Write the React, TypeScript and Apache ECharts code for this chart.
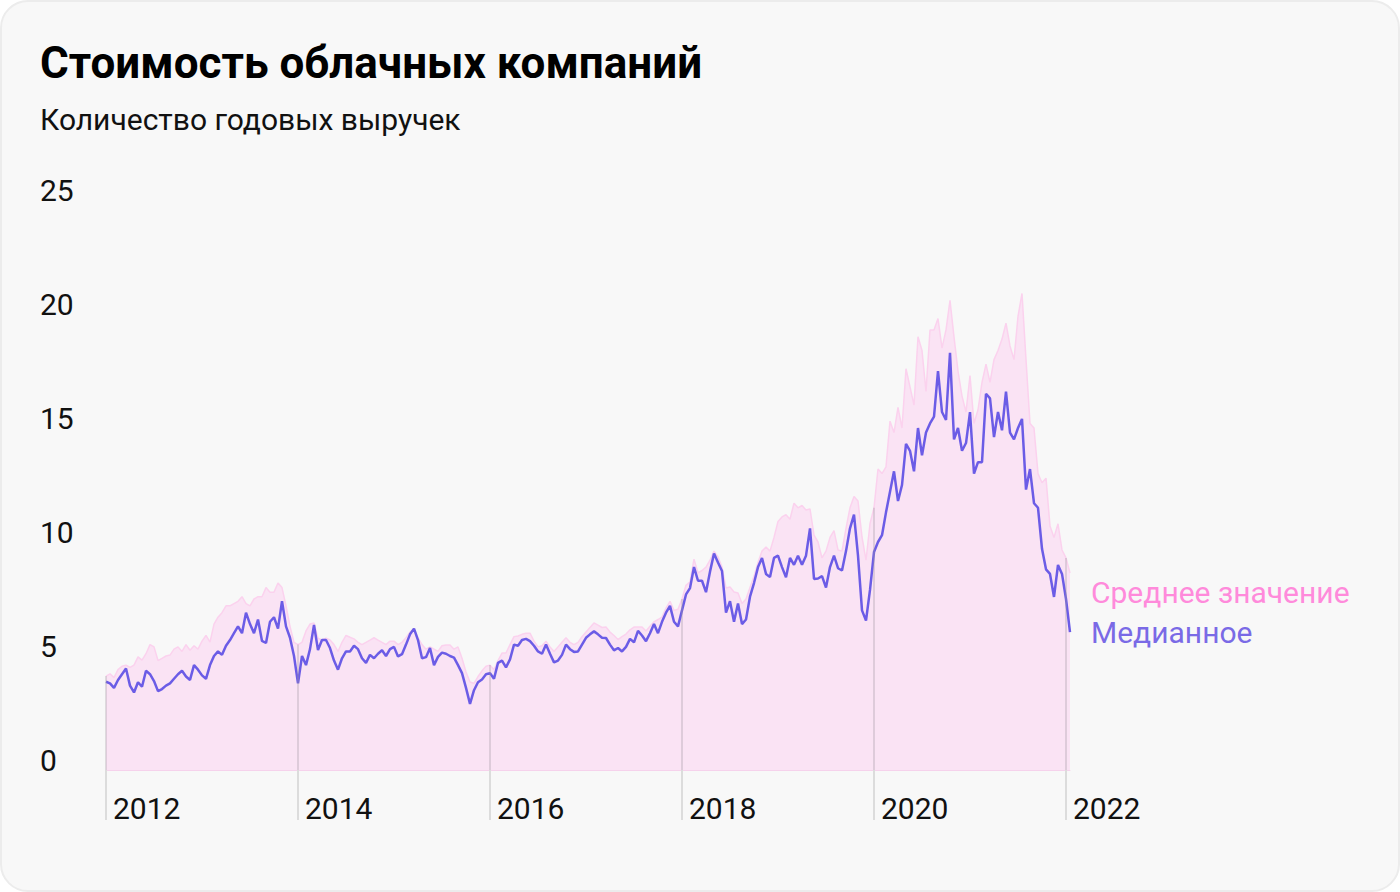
import React, { useEffect, useRef } from "react";
import * as echarts from "echarts";

const TITLE = "Стоимость облачных компаний";
const SUBTITLE = "Количество годовых выручек";
const LEGEND_MEAN = "Среднее значение";
const LEGEND_MEDIAN = "Медианное";

// semi-monthly observations, 2012-01 … 2022-01
const START_YEAR = 2012;
const POINTS = 242;
const dates: string[] = Array.from({ length: POINTS }, (_, i) => {
  const y = START_YEAR + Math.floor(i / 24);
  const m = Math.floor((i % 24) / 2) + 1;
  const d = i % 2 ? 15 : 1;
  return `${y}-${String(m).padStart(2, "0")}-${String(d).padStart(2, "0")}`;
});

const median: number[] = [
  3.87, 3.8, 3.6, 3.95, 4.2, 4.45, 3.7, 3.4, 3.85, 3.65, 4.35, 4.2, 3.9, 3.46, 3.55, 3.7, 3.8, 4.0, 4.2, 4.35,
  4.1, 3.95, 4.6, 4.4, 4.15, 4.0, 4.6, 5.0, 5.2, 5.05, 5.45, 5.7, 6.0, 6.3, 6.0, 6.9, 6.4, 6.0, 6.6, 5.66,
  5.57, 6.5, 6.7, 6.2, 7.4, 6.3, 5.8, 5.0, 3.8, 5.0, 4.6, 5.3, 6.36, 5.26, 5.7, 5.7, 5.35, 4.8, 4.4, 4.9,
  5.2, 5.2, 5.45, 5.3, 4.9, 4.7, 5.05, 4.9, 5.1, 5.25, 5.0, 5.3, 5.4, 4.98, 5.08, 5.5, 5.95, 6.2, 5.7, 4.9,
  4.95, 5.35, 4.6, 4.96, 5.15, 5.1, 5.0, 4.93, 4.6, 4.25, 3.6, 2.9, 3.5, 3.85, 3.97, 4.2, 4.25, 4.0, 4.7, 4.8,
  4.5, 4.85, 5.5, 5.45, 5.7, 5.75, 5.65, 5.45, 5.2, 5.1, 5.5, 5.1, 4.72, 4.8, 5.05, 5.5, 5.3, 5.18, 5.2, 5.5,
  5.8, 5.95, 6.08, 5.95, 5.8, 5.79, 5.5, 5.25, 5.35, 5.2, 5.4, 5.75, 5.6, 6.1, 5.9, 5.65, 6.0, 6.4, 6.0, 6.5,
  6.9, 7.2, 6.5, 6.3, 7.0, 7.7, 7.98, 8.9, 8.3, 8.3, 7.8, 8.7, 9.5, 9.1, 8.73, 6.9, 7.4, 6.5, 7.3, 6.4,
  6.6, 7.6, 8.2, 8.9, 9.3, 8.6, 8.46, 9.3, 9.4, 8.9, 8.45, 9.3, 9.0, 9.4, 9.0, 9.4, 10.6, 8.38, 8.4, 8.5,
  8.0, 8.9, 9.4, 8.85, 8.75, 9.6, 10.6, 11.2, 9.4, 7.0, 6.55, 7.9, 9.56, 10.0, 10.3, 11.3, 12.2, 13.1, 11.8, 12.5,
  14.3, 14.0, 13.1, 15.0, 13.8, 14.8, 15.2, 15.5, 17.5, 15.7, 15.35, 18.3, 14.5, 15.0, 14.0, 14.34, 15.7, 13.0, 13.5, 13.5,
  16.5, 16.3, 14.6, 15.7, 14.9, 16.6, 14.8, 14.5, 15.0, 15.4, 12.3, 13.2, 11.7, 11.5, 9.7, 8.8, 8.6, 7.59, 8.99, 8.6,
  7.5, 6.05,
];

const mean: number[] = [
  4.12, 4.22, 4.05, 4.4, 4.55, 4.6, 4.5, 4.6, 4.96, 4.82, 5.1, 5.5, 5.4, 4.8, 4.9, 5.0, 5.04, 5.3, 5.4, 5.2,
  5.5, 5.25, 5.45, 5.3, 5.65, 5.9, 5.61, 6.4, 6.7, 6.9, 7.2, 7.2, 7.3, 7.4, 7.6, 7.3, 7.2, 7.5, 7.6, 7.6,
  8.0, 7.8, 7.8, 8.2, 8.0, 7.2, 6.3, 5.6, 5.5, 5.6, 6.1, 6.4, 6.45, 5.78, 5.7, 5.78, 5.7, 5.5, 5.2, 5.6,
  5.9, 5.82, 5.75, 5.6, 5.5, 5.6, 5.7, 5.8, 5.7, 5.6, 5.5, 5.65, 5.65, 5.5, 5.6, 5.8, 6.05, 6.2, 5.8, 5.5,
  5.3, 5.4, 5.3, 5.2, 5.45, 5.48, 5.48, 5.3, 5.4, 4.9, 4.3, 3.86, 3.8, 4.1, 4.35, 4.55, 4.6, 4.4, 4.8, 5.13,
  5.13, 5.5, 5.85, 5.88, 5.95, 6.0, 6.0, 5.65, 5.4, 5.45, 5.65, 5.4, 5.2, 5.4, 5.6, 5.8, 5.6, 5.5, 5.6, 5.85,
  6.05, 6.25, 6.45, 6.35, 6.25, 6.27, 6.05, 5.9, 5.72, 5.85, 5.96, 6.15, 6.27, 6.27, 6.27, 6.1, 6.3, 6.5, 6.6, 6.71,
  7.1, 7.4, 7.0, 7.05, 7.5, 8.1, 8.25, 9.25, 8.64, 8.75, 8.9, 9.2, 9.6, 9.35, 8.9, 7.98, 8.03, 7.81, 7.76, 7.3,
  7.5, 8.0, 8.5, 9.1, 9.6, 9.78, 9.6, 10.2, 10.9, 11.1, 11.2, 11.0, 11.7, 11.5, 11.6, 11.4, 11.45, 10.3, 10.0, 9.3,
  9.6, 10.2, 10.5, 9.65, 9.6, 10.6, 11.5, 12.0, 11.8, 10.22, 9.2, 10.8, 11.5, 13.2, 13.0, 13.3, 15.3, 14.8, 15.9, 15.0,
  17.6, 16.8, 16.0, 19.0, 18.4, 16.6, 19.3, 19.3, 19.8, 18.5, 19.3, 20.6, 19.0, 17.5, 16.4, 15.7, 17.3, 15.2, 15.8, 17.0,
  17.8, 17.0, 18.0, 18.4, 18.9, 19.6, 18.6, 18.0, 19.9, 20.9, 18.0, 15.2, 15.0, 13.0, 12.6, 12.8, 10.7, 10.2, 10.8, 9.65,
  9.3, 8.64,
];

const Y_MIN = 0;
const Y_MAX = 25;
const Y_STEP = 5;
const YEAR_STEP = 48; // two years of semi-monthly points

const FONT = "Roboto, 'Noto Sans', sans-serif";

export default function App() {
  const ref = useRef<HTMLDivElement>(null);

  useEffect(() => {
    document.body.style.margin = "0";
    if (!ref.current) return;
    const chart = echarts.init(ref.current, undefined, { renderer: "svg" });
    const isYearTick = (idx: number) => idx % YEAR_STEP === 0;
    const yearIdx = dates.map((_, i) => i).filter(isYearTick);

    chart.setOption({
      animation: false,
      backgroundColor: "transparent",
      textStyle: { fontFamily: FONT },
      title: {
        text: TITLE,
        subtext: SUBTITLE,
        left: 40,
        top: 40,
        padding: 0,
        itemGap: 17,
        textStyle: { fontFamily: FONT, fontSize: 44, fontWeight: 700, color: "#000", lineHeight: 46 },
        subtextStyle: { fontFamily: FONT, fontSize: 30, fontWeight: 400, color: "#111", lineHeight: 32 },
      },
      grid: { left: 106, right: 330, top: 200, bottom: 122, containLabel: false },
      xAxis: {
        type: "category",
        data: dates,
        boundaryGap: false,
        axisLine: { show: true, lineStyle: { color: "#f6d2ec", width: 1 } },
        axisTick: {
          show: true,
          interval: (idx: number) => isYearTick(idx),
          length: 50,
          lineStyle: { color: "#dcdcdc", width: 2 },
        },
        axisLabel: {
          interval: (idx: number) => isYearTick(idx),
          formatter: (v: string) => v.slice(0, 4),
          align: "left",
          verticalAlign: "top",
          padding: [0, 0, 0, 7],
          margin: 23,
          lineHeight: 30,
          fontSize: 30,
          fontFamily: FONT,
          color: "#111",
        },
        splitLine: { show: false },
      },
      yAxis: {
        type: "value",
        min: Y_MIN,
        max: Y_MAX,
        interval: Y_STEP,
        axisLine: { show: false },
        axisTick: { show: false },
        splitLine: { show: false },
        axisLabel: {
          align: "left",
          verticalAlign: "bottom",
          margin: 66,
          lineHeight: 20,
          fontSize: 30,
          fontFamily: FONT,
          color: "#111",
        },
      },
      series: [
        {
          name: LEGEND_MEAN,
          type: "line",
          data: mean,
          symbol: "none",
          lineStyle: { color: "#fbd2ee", width: 1.5 },
          areaStyle: { color: "#fae3f4", opacity: 1 },
          z: 2,
          markLine: {
            silent: true,
            symbol: ["none", "none"],
            label: { show: false },
            lineStyle: { color: "rgba(160,150,160,0.3)", width: 2, type: "solid" },
            data: yearIdx.map((i) => [
              { coord: [dates[i], 0] },
              { coord: [dates[i], mean[i]] },
            ]),
          },
        },
        {
          name: LEGEND_MEDIAN,
          type: "line",
          data: median,
          symbol: "none",
          lineStyle: { color: "#6b5ce6", width: 2.5 },
          z: 3,
        },
      ],
      graphic: [
        {
          type: "text",
          left: 1091,
          top: 577,
          style: { text: LEGEND_MEAN, fontFamily: FONT, fontSize: 30, fill: "#ff8adb" },
        },
        {
          type: "text",
          left: 1091,
          top: 617,
          style: { text: LEGEND_MEDIAN, fontFamily: FONT, fontSize: 30, fill: "#7a6ae6" },
        },
      ],
    });
    return () => chart.dispose();
  }, []);

  return (
    <div
      style={{
        position: "relative",
        width: 1400,
        height: 892,
        boxSizing: "border-box",
        background: "#f8f8f8",
        border: "2px solid #ececec",
        borderRadius: 28,
        overflow: "hidden",
      }}
    >
      <div ref={ref} style={{ position: "absolute", left: -2, top: -2, width: 1400, height: 892 }} />
    </div>
  );
}
